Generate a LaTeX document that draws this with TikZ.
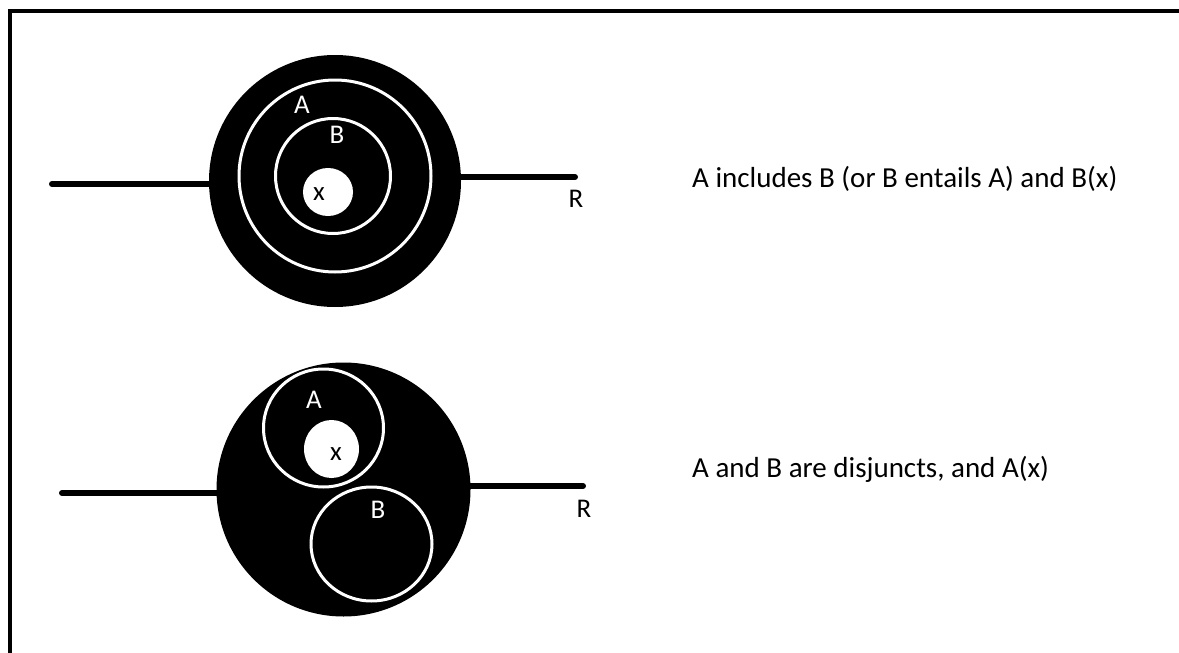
\documentclass[tikz,border=0pt]{standalone}
\usepackage{fontspec}
\setmainfont{Carlito}
\begin{document}
\begin{tikzpicture}[x=1pt,y=-1pt,
  ring/.style={draw=white,line width=3pt},
  hole/.style={fill=white},
  wire/.style={line width=6pt,line cap=round},
  wlbl/.style={text=white,font=\fontsize{27}{32}\selectfont,anchor=base,inner sep=0pt},
  blbl/.style={text=black,font=\fontsize{27}{32}\selectfont,anchor=base,inner sep=0pt},
  caption/.style={font=\fontsize{29}{34}\selectfont,anchor=base west,inner sep=0pt}]
\useasboundingbox (0,0) rectangle (1179,653);
\fill[white] (0,0) rectangle (1179,653);
% frame
\draw[line width=4pt] (10,653) -- (10,11) -- (1179,11);
% top diagram
\coordinate (t1) at (52,184);
\coordinate (t2) at (215,184);
\coordinate (t3) at (455,177);
\coordinate (t4) at (575,177);
\draw[wire] (t1) -- (t2);
\draw[wire] (t3) -- (t4);
\fill (335,181) circle (126);
\draw[ring] (335,176) circle (96);
\draw[ring] (333,176) circle (57.5);
\fill[hole] (328,192) ellipse (25 and 24);
\node[wlbl] (tA) at (302,113) {A};
\node[wlbl] (tB) at (337,143) {B};
\node[blbl] (tx) at (319,200) {x};
\node[blbl] (tR) at (576,207) {R};
\node[caption] (cap1) at (692,187) {A includes B (or B entails A) and B(x)};
% bottom diagram
\coordinate (b1) at (62,493);
\coordinate (b2) at (225,493);
\coordinate (b3) at (462,486);
\coordinate (b4) at (583,486);
\draw[wire] (b1) -- (b2);
\draw[wire] (b3) -- (b4);
\fill (343.5,489.5) circle (127);
\draw[ring] (323.5,428) ellipse (60 and 59);
\fill[hole] (331.5,449) ellipse (27.5 and 29);
\draw[ring] (371.5,544) ellipse (60.5 and 57);
\node[wlbl] (bA) at (314,408) {A};
\node[blbl] (bx) at (336,460) {x};
\node[wlbl] (bB) at (378,518) {B};
\node[blbl] (bR) at (584,517) {R};
\node[caption] (cap2) at (692,477) {A and B are disjuncts, and A(x)};
\end{tikzpicture}
\end{document}
